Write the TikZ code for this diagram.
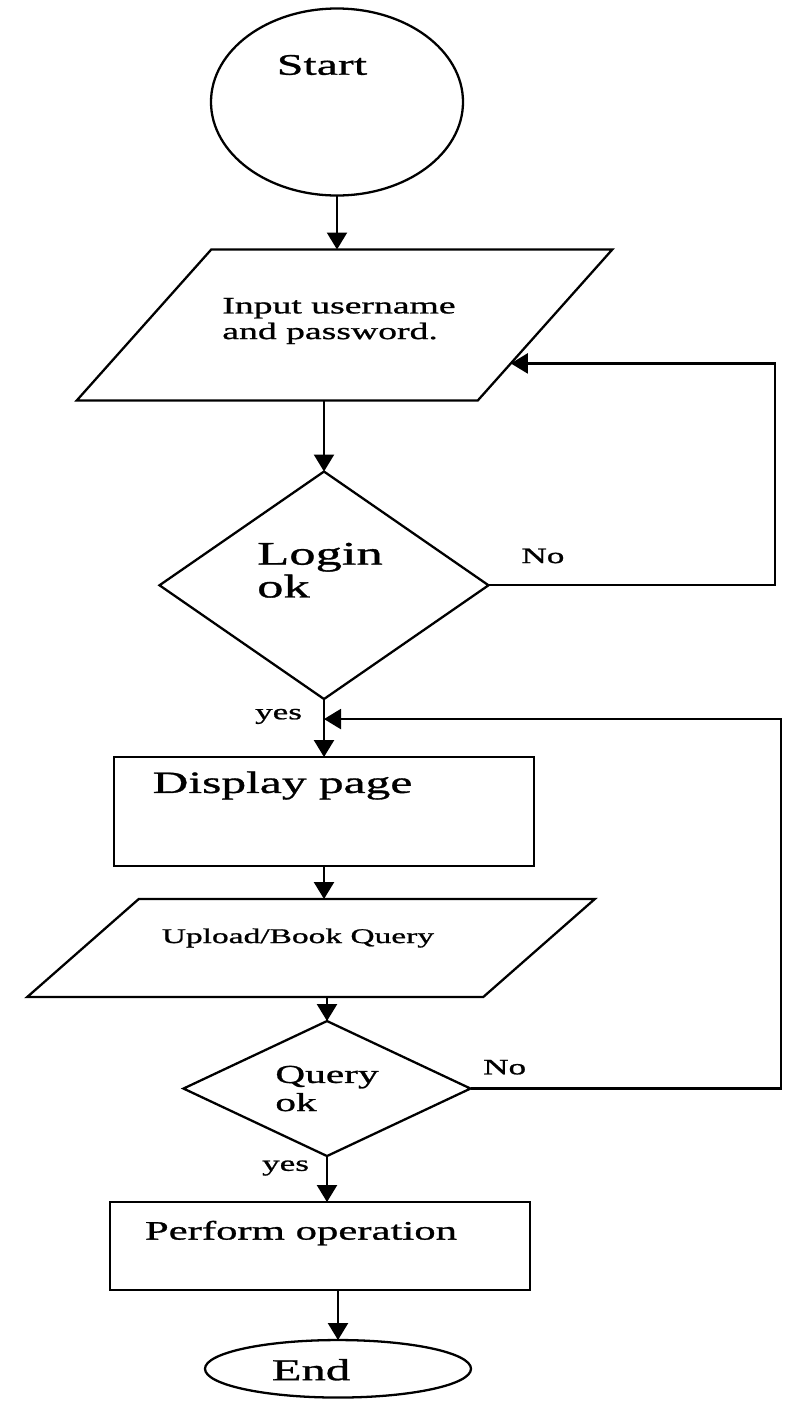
\documentclass[tikz,border=0pt]{standalone}
\usepackage{fontspec}
\setmainfont[FakeStretch=1.6,FakeBold=1]{Liberation Serif}
\usetikzlibrary{arrows.meta,calc,positioning,shapes.geometric}
\tikzset{
  terminal/.style={ellipse, draw, line width=1.3pt, inner sep=1pt, outer sep=0pt},
  inout/.style={trapezium, draw, line width=1.3pt, inner sep=0pt, outer sep=0pt, text depth=0pt},
  process/.style={rectangle, draw, line width=1.3pt, inner sep=1pt, outer sep=0pt},
  decision/.style={diamond, draw, line width=1.3pt, inner sep=1pt, outer sep=0pt},
  flow/.style={-{Triangle[length=3.4mm,width=4mm]}, line width=1.3pt},
  tag/.style={font=\fontsize{12.5}{14}\selectfont}
}

\begin{document}
\begin{tikzpicture}
  \useasboundingbox (0,0) rectangle (15.76,-28.02);
  \node[terminal, minimum width=5.04cm, minimum height=3.74cm,
    label={[font=\fontsize{17}{19}\selectfont, shift={(-0.30,0.74)}]center:Start}] (start) at (6.74,-2.04) {};
  \node[inout, below=1.08cm of start, xshift=0.15cm, text width=5.33cm, text height=3.02cm,
    trapezium left angle=48.3, trapezium right angle=131.7,
    label={[align=left, font=\fontsize{13.4}{14.6}\selectfont, shift={(-0.11,0.08)}]center:Input username\\and password.}] (in1) {};
  \node[decision, below=1.42cm of in1, xshift=-0.41cm, minimum width=6.58cm, minimum height=4.55cm,
    label={[align=left, font=\fontsize{18.7}{18.7}\selectfont, shift={(-0.08,0.30)}]center:Login\\ok}] (login) {};
  \node[process, below=1.16cm of login, minimum width=8.4cm, minimum height=2.18cm,
    label={[font=\fontsize{17.6}{20}\selectfont, shift={(-0.83,0.52)}]center:Display page}] (disp) {};
  \node[inout, below=0.66cm of disp, xshift=-0.26cm, text width=6.89cm, text height=1.96cm,
    trapezium left angle=41.3, trapezium right angle=138.7,
    label={[font=\fontsize{11.9}{14}\selectfont, shift={(-0.26,0.20)}]center:Upload/Book Query}] (up) {};
  \node[decision, below=0.48cm of up, xshift=0.32cm, minimum width=5.74cm, minimum height=2.7cm,
    label={[align=left, font=\fontsize{14.7}{16}\selectfont]center:Query\\ok}] (query) {};
  \node[process, below=0.92cm of query, xshift=-0.14cm, minimum width=8.4cm, minimum height=1.76cm,
    label={[font=\fontsize{15.2}{17}\selectfont, shift={(-0.38,0.26)}]center:Perform operation}] (perform) {};
  \node[terminal, below=1.0cm of perform, xshift=0.36cm, minimum width=5.32cm, minimum height=1.15cm,
    label={[font=\fontsize{17.3}{19}\selectfont, shift={(-0.54,-0.02)}]center:End}] (end) {};

  \coordinate (rail1) at (15.50,0);
  \coordinate (rail2) at (15.62,0);
  \coordinate (j2) at ($(login.south)!0.345!(disp.north)$);

  % main line
  \draw[flow] (start.south) -- (start.south |- in1.north);
  \draw[flow] (login.north |- in1.south) -- (login.north);
  \draw[flow] (login.south) -- node[tag, left=0.30cm, pos=0.3] {yes} (login.south |- disp.north);
  \draw[flow] (disp.south) -- (disp.south |- up.north);
  \draw[flow] (query.north |- up.south) -- (query.north);
  \draw[flow] (query.south) -- node[tag, left=0.22cm, pos=0.26] {yes} (query.south |- perform.north);
  \draw[flow] (end.north |- perform.south) -- (end.north);

  % loops back
  \draw[flow] (login.east) -- node[tag, above=0.30cm, pos=0.19] {No} (login.east -| rail1) |- (in1.-13.8);
  \draw[flow] (query.east) -- node[tag, above=0.14cm, pos=0.11] {No} (query.east -| rail2) |- (j2);
\end{tikzpicture}
\end{document}
